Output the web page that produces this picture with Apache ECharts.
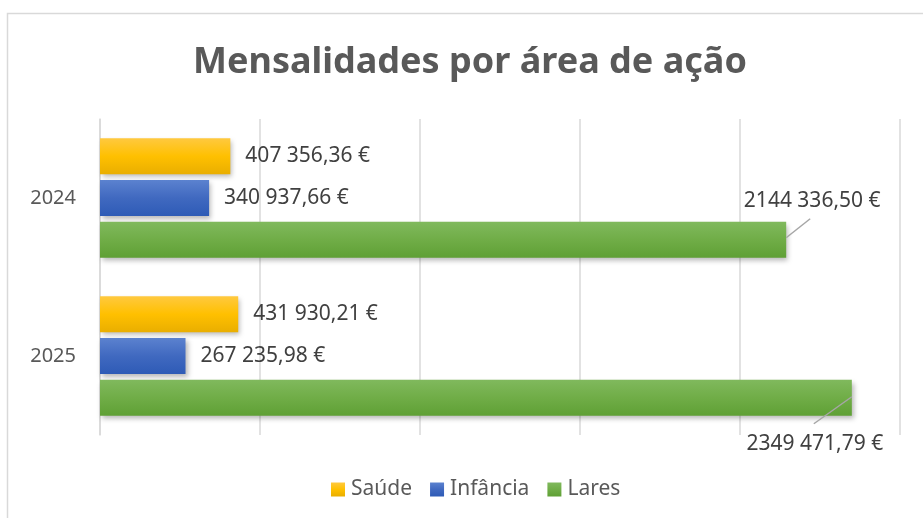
<!DOCTYPE html>
<html>
<head>
<meta charset="utf-8">
<script src="https://cdn.jsdelivr.net/npm/echarts@6/dist/echarts.min.js"></script>
<style>
  html, body { margin: 0; padding: 0; background: #ffffff; }
  #chart { width: 923px; height: 518px; }
</style>
</head>
<body>
<div id="chart"></div>
<script>
// Monthly fees by area of action (EUR)
const years = ['2024', '2025'];
const saude = [407356.36, 431930.21];
const infancia = [340937.66, 267235.98];
const lares = [2144336.50, 2349471.79];
const seriesNames = ['Saúde', 'Infância', 'Lares'];

const FONT = '"Noto Sans", "Open Sans", sans-serif';

function grad(top, mid, bottom) {
  return new echarts.graphic.LinearGradient(0, 0, 0, 1, [
    { offset: 0, color: top },
    { offset: 0.5, color: mid },
    { offset: 1, color: bottom }
  ]);
}

const colors = [
  grad('#ffc93f', '#ffc000', '#e9ae00'),
  grad('#5b82cf', '#4069c0', '#2e5bb6'),
  grad('#80b95d', '#70ad47', '#5fa035')
];

// Euro amount: space-grouped thousands (millions joined), comma decimals
function fmtEuro(v) {
  const parts = v.toFixed(2).split('.');
  const intPart = parts[0];
  const n = intPart.length;
  let out = '';
  for (let i = 0; i < n; i++) {
    out += intPart[i];
    const rest = n - i - 1;
    if (rest === 3) out += ' ';
  }
  return out + ',' + parts[1] + ' €';
}

const chart = echarts.init(document.getElementById('chart'), null, { renderer: 'canvas' });

const labelBase = {
  show: true,
  position: 'right',
  distance: 15,
  color: '#404040',
  fontFamily: FONT,
  fontSize: 21,
  formatter: p => fmtEuro(p.value)
};

const shadow = {
  shadowBlur: 5,
  shadowOffsetX: 2,
  shadowOffsetY: 3,
  shadowColor: 'rgba(0,0,0,0.28)'
};

const frame = {
  type: 'rect',
  shape: { x: 7.5, y: 13.5, width: 1000, height: 1000 },
  style: { fill: 'none', stroke: '#d9d9d9', lineWidth: 1.5 },
  silent: true,
  z: -10
};

chart.setOption({
  backgroundColor: '#ffffff',
  animation: false,
  graphic: [frame],
  title: {
    text: 'Mensalidades por área de ação',
    left: 465,
    textAlign: 'center',
    top: 40,
    textStyle: {
      fontFamily: FONT,
      fontSize: 36,
      fontWeight: 'bold',
      color: '#595959'
    }
  },
  legend: {
    bottom: 18,
    left: 331,
    padding: 0,
    icon: 'rect',
    itemWidth: 14,
    itemHeight: 14,
    itemGap: 18,
    textStyle: { fontFamily: FONT, fontSize: 21, color: '#595959', padding: [0, 0, 0, 1] },
    data: seriesNames
  },
  grid: { left: 100, right: 23, top: 119, bottom: 83, containLabel: false },
  xAxis: {
    type: 'value',
    min: 0,
    max: 2500000,
    interval: 500000,
    axisLabel: { show: false },
    axisLine: { show: false },
    axisTick: { show: false },
    splitLine: { show: true, lineStyle: { color: '#d9d9d9', width: 1.5 } }
  },
  yAxis: {
    type: 'category',
    inverse: true,
    data: years,
    axisLine: { show: true, lineStyle: { color: '#d9d9d9', width: 1.5 } },
    axisTick: { show: false },
    axisLabel: { color: '#595959', fontFamily: FONT, fontSize: 20, margin: 24, padding: [3, 0, 0, 0] }
  },
  series: [
    {
      name: seriesNames[0], type: 'bar', data: saude,
      barWidth: 36, barGap: '16%',
      itemStyle: Object.assign({ color: colors[0] }, shadow),
      label: labelBase
    },
    {
      name: seriesNames[1], type: 'bar', data: infancia,
      barWidth: 36, barGap: '16%',
      itemStyle: Object.assign({ color: colors[1] }, shadow),
      label: labelBase
    },
    {
      name: seriesNames[2], type: 'bar', data: lares,
      barWidth: 36, barGap: '16%',
      itemStyle: Object.assign({ color: colors[2] }, shadow),
      label: Object.assign({}, labelBase, { position: 'inside', align: 'center', verticalAlign: 'middle' }),
      // Callout labels: above-right of the first bar end, below-left of the second
      labelLayout: function (p) {
        const r = p.rect;
        const right = r.x + r.width;
        if (p.dataIndex === 0) {
          return { x: right + 26, y: r.y - 21, align: 'center', verticalAlign: 'middle' };
        }
        return { x: right - 37, y: r.y + r.height + 28, align: 'center', verticalAlign: 'middle' };
      }
    }
  ]
});

// Leader lines from the Lares bar ends to their callout labels,
// placed from the bar layout computed by the chart.
const laresData = chart.getModel().getSeriesByIndex(2).getData();
const leaders = [];
for (let i = 0; i < laresData.count(); i++) {
  const r = laresData.getItemLayout(i);
  const x0 = r.x, x1 = r.x + r.width;
  const top = Math.min(r.y, r.y + r.height), bottom = Math.max(r.y, r.y + r.height);
  const right = Math.max(x0, x1);
  const shape = i === 0
    ? { x1: right, y1: top + 16, x2: right + 24, y2: top - 3 }
    : { x1: right, y1: top + 17, x2: right - 38, y2: bottom + 8 };
  leaders.push({
    type: 'line', shape: shape, silent: true, z: 10,
    style: { stroke: '#a6a6a6', lineWidth: 1.5 }
  });
}
chart.setOption({ graphic: [frame].concat(leaders) });
</script>
</body>
</html>
